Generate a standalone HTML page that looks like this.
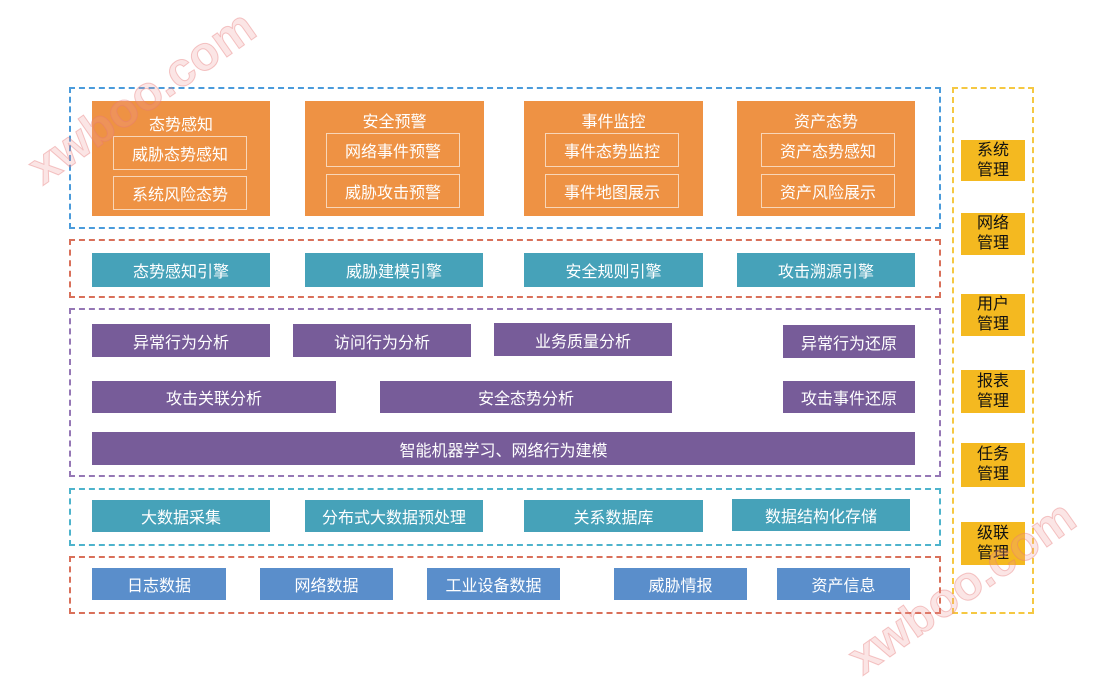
<!DOCTYPE html>
<html><head><meta charset="utf-8"><style>
body{margin:0;width:1116px;height:692px;background:#fff;position:relative;overflow:hidden;font-family:"Liberation Sans","Noto Sans CJK SC",sans-serif}
.f{position:absolute;box-sizing:border-box;border:2px dashed}
.b{position:absolute;box-sizing:border-box;color:#fff;font-size:16px;display:flex;align-items:center;justify-content:center}
.o{background:#EE9244;flex-direction:column;justify-content:flex-start;font-size:16px}
.in{position:absolute;box-sizing:border-box;border:1.5px solid #f8d6b8;color:#fff;font-size:16px;display:flex;align-items:center;justify-content:center}
.t{background:#46A2B9}.p{background:#775C99}.bl{background:#5A8ECB}
.y{position:absolute;left:961px;width:64px;background:#F4B920;color:#111;font-size:16px;line-height:20px;text-align:center;display:flex;align-items:center;justify-content:center}
.wm{position:absolute;color:rgba(240,150,150,0.25);font-size:48px;font-weight:bold;transform:rotate(-35deg);-webkit-text-stroke:1px rgba(230,120,120,0.4)}
</style></head><body>
<div class="f" style="left:69px;top:87px;width:872px;height:142px;border-color:#4A9BDB"></div>
<div class="f" style="left:69px;top:239px;width:872px;height:59px;border-color:#D9705A"></div>
<div class="f" style="left:69px;top:308px;width:872px;height:169px;border-color:#9577B5"></div>
<div class="f" style="left:69px;top:488px;width:872px;height:58px;border-color:#4DB3CC"></div>
<div class="f" style="left:69px;top:556px;width:872px;height:58px;border-color:#D9705A"></div>
<div class="f" style="left:952px;top:87px;width:82px;height:527px;border-color:#F5C842"></div>

<div class="b o" style="left:92px;top:101px;width:178px;height:115px;padding-top:10px">态势感知</div>
<div class="in" style="left:113px;top:136px;width:134px;height:34px">威胁态势感知</div>
<div class="in" style="left:113px;top:176px;width:134px;height:34px">系统风险态势</div>
<div class="b o" style="left:305px;top:101px;width:179px;height:115px;padding-top:7px">安全预警</div>
<div class="in" style="left:326px;top:133px;width:134px;height:34px">网络事件预警</div>
<div class="in" style="left:326px;top:174px;width:134px;height:34px">威胁攻击预警</div>
<div class="b o" style="left:524px;top:101px;width:179px;height:115px;padding-top:7px">事件监控</div>
<div class="in" style="left:545px;top:133px;width:134px;height:34px">事件态势监控</div>
<div class="in" style="left:545px;top:174px;width:134px;height:34px">事件地图展示</div>
<div class="b o" style="left:737px;top:101px;width:178px;height:115px;padding-top:7px">资产态势</div>
<div class="in" style="left:761px;top:133px;width:134px;height:34px">资产态势感知</div>
<div class="in" style="left:761px;top:174px;width:134px;height:34px">资产风险展示</div>

<div class="b t" style="left:92px;top:253px;width:178px;height:34px">态势感知引擎</div>
<div class="b t" style="left:305px;top:253px;width:178px;height:34px">威胁建模引擎</div>
<div class="b t" style="left:524px;top:253px;width:179px;height:34px">安全规则引擎</div>
<div class="b t" style="left:737px;top:253px;width:178px;height:34px">攻击溯源引擎</div>

<div class="b p" style="left:92px;top:324px;width:178px;height:33px">异常行为分析</div>
<div class="b p" style="left:293px;top:324px;width:178px;height:33px">访问行为分析</div>
<div class="b p" style="left:494px;top:323px;width:178px;height:33px">业务质量分析</div>
<div class="b p" style="left:783px;top:325px;width:132px;height:33px">异常行为还原</div>
<div class="b p" style="left:92px;top:381px;width:244px;height:32px">攻击关联分析</div>
<div class="b p" style="left:380px;top:381px;width:292px;height:32px">安全态势分析</div>
<div class="b p" style="left:783px;top:381px;width:132px;height:32px">攻击事件还原</div>
<div class="b p" style="left:92px;top:432px;width:823px;height:33px">智能机器学习、网络行为建模</div>

<div class="b t" style="left:92px;top:500px;width:178px;height:32px">大数据采集</div>
<div class="b t" style="left:305px;top:500px;width:178px;height:32px">分布式大数据预处理</div>
<div class="b t" style="left:524px;top:500px;width:179px;height:32px">关系数据库</div>
<div class="b t" style="left:732px;top:499px;width:178px;height:32px">数据结构化存储</div>

<div class="b bl" style="left:92px;top:568px;width:134px;height:32px">日志数据</div>
<div class="b bl" style="left:260px;top:568px;width:133px;height:32px">网络数据</div>
<div class="b bl" style="left:427px;top:568px;width:133px;height:32px">工业设备数据</div>
<div class="b bl" style="left:614px;top:568px;width:133px;height:32px">威胁情报</div>
<div class="b bl" style="left:777px;top:568px;width:133px;height:32px">资产信息</div>

<div class="y" style="top:140px;height:41px">系统<br>管理</div>
<div class="y" style="top:213px;height:42px">网络<br>管理</div>
<div class="y" style="top:294px;height:42px">用户<br>管理</div>
<div class="y" style="top:370px;height:43px">报表<br>管理</div>
<div class="y" style="top:443px;height:44px">任务<br>管理</div>
<div class="y" style="top:522px;height:43px">级联<br>管理</div>

<div class="wm" style="left:10px;top:70px">xwboo.com</div>
<div class="wm" style="left:830px;top:560px">xwboo.com</div>
</body></html>
